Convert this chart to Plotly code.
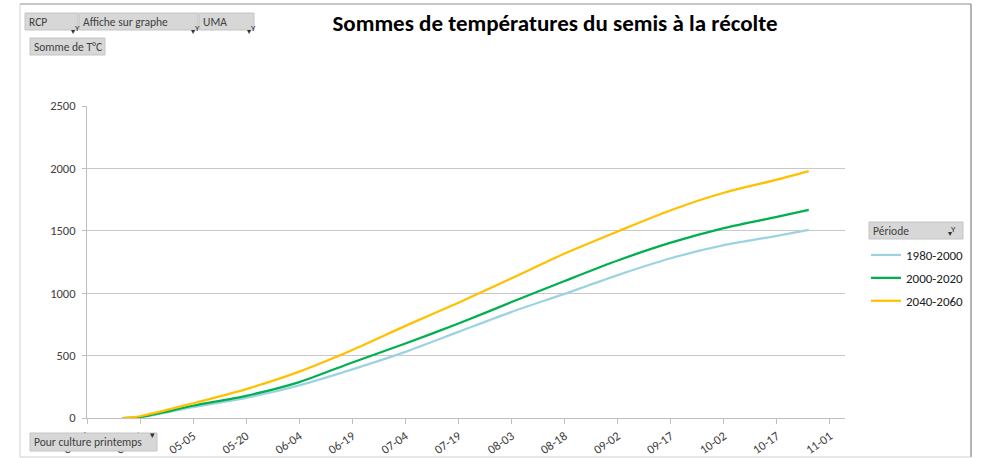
import plotly.graph_objects as go

# Cumulative degree-days from sowing to harvest, three climate periods
dates = ["04-15", "04-20", "05-05", "05-20", "06-04", "06-19", "07-04", "07-19",
         "08-03", "08-18", "09-02", "09-17", "10-02", "10-17", "10-26"]
p1980_2000 = [0, 6, 88, 162, 262, 390, 530, 690, 850, 995, 1145, 1280, 1385, 1460, 1508]
p2000_2020 = [0, 8, 98, 178, 288, 445, 597, 757, 929, 1098, 1262, 1405, 1522, 1612, 1667]
p2040_2060 = [0, 14, 118, 232, 372, 545, 738, 924, 1119, 1318, 1495, 1665, 1805, 1910, 1978]

series_names = ["1980-2000", "2000-2020", "2040-2060"]
series_colors = ["#9dd3e1", "#00b050", "#ffc000"]

YEAR = "2021-"
x_dates = [YEAR + d for d in dates]

W, H = 982, 458
L, R, T, B = 87, 137, 106, 40
PW, PH = W - L - R, H - T - B


def fx(px):
    return (px - L) / PW


def fy(py):
    return (H - B - py) / PH


FONT = "Carlito, Calibri, Liberation Sans Narrow, Liberation Sans, Arial"

fig = go.Figure()
for name, vals, col in zip(series_names, [p1980_2000, p2000_2020, p2040_2060], series_colors):
    fig.add_trace(go.Scatter(
        x=x_dates, y=vals, mode="lines", name=name, legendgroup=name,
        line=dict(color=col, width=2.25, shape="spline", smoothing=0.7),
    ))

shapes = []
annotations = []

# outer chart frame
frame = [((20, 4), (971, 4), "#8c8c8c"), ((971, 4), (971, 457), "#6b6b6b"),
         ((20, 4), (20, 457), "#d0d0d0"), ((20, 457), (971, 457), "#d0d0d0")]
for (x0, y0), (x1, y1), c in frame:
    shapes.append(dict(type="line", xref="paper", yref="paper",
                       x0=fx(x0), y0=fy(y0), x1=fx(x1), y1=fy(y1),
                       line=dict(color=c, width=1), layer="above"))


def button(x0, y0, x1, y1, label, icon=None):
    shapes.append(dict(type="rect", xref="paper", yref="paper",
                       x0=fx(x0), y0=fy(y0), x1=fx(x1), y1=fy(y1),
                       fillcolor="#d7d7d7", line=dict(color="#c4c4c4", width=1),
                       layer="above"))
    annotations.append(dict(text=label, xref="paper", yref="paper",
                            x=fx(x0 + 2), y=fy((y0 + y1) / 2), xanchor="left",
                            yanchor="middle", showarrow=False,
                            font=dict(family=FONT, size=11.5, color="#404040")))
    if icon == "filter":
        annotations.append(dict(text="▾", xref="paper", yref="paper",
                                x=fx(x1 - 9), y=fy((y0 + y1) / 2 + 2), showarrow=False,
                                font=dict(size=8, color="#303030")))
        annotations.append(dict(text="Y", xref="paper", yref="paper",
                                x=fx(x1 - 5), y=fy((y0 + y1) / 2 - 2), showarrow=False,
                                font=dict(family=FONT, size=9, color="#303030")))
    elif icon == "drop":
        annotations.append(dict(text="▾", xref="paper", yref="paper",
                                x=fx(x1 - 9), y=fy((y0 + y1) / 2), showarrow=False,
                                font=dict(size=9, color="#303030")))


button(25, 13, 78, 30, "RCP", "filter")
button(79, 13, 198, 30, "Affiche sur graphe", "filter")
button(199, 13, 254, 30, "UMA", "filter")
button(30, 38, 105, 55, "Somme de T°C")
button(30, 433, 157, 451, "Pour culture printemps", "drop")
button(869, 222, 963, 239, "Période", "filter")

fig.update_layout(
    width=W, height=H,
    margin=dict(l=L, r=R, t=T, b=B),
    paper_bgcolor="white", plot_bgcolor="white",
    font=dict(family=FONT, size=12, color="#404040"),
    title=dict(text="<b>Sommes de températures du semis à la récolte</b>",
               xref="container", yref="container", x=555 / W, y=1 - 23 / H,
               xanchor="center", yanchor="middle",
               font=dict(family=FONT, size=23, color="#000000")),
    xaxis=dict(type="date", range=[YEAR + "04-05", YEAR + "11-05 06:00"],
               tick0=YEAR + "04-05", dtick=15 * 86400000, tickformat="%m-%d",
               tickangle=-35, ticks="outside", ticklen=5, tickcolor="#bfbfbf",
               showgrid=False, showline=True, linecolor="#bfbfbf", zeroline=False,
               automargin=False, tickfont=dict(size=12.5, color="#404040")),
    yaxis=dict(range=[0, 2500], dtick=500, ticks="outside", ticklen=4,
               tickcolor="#bfbfbf", showgrid=True, gridcolor="#c8c8c8",
               showline=True, linecolor="#bfbfbf", zeroline=False,
               automargin=False, ticklabelstandoff=4,
               tickfont=dict(size=12.5, color="#404040")),
    showlegend=True,
    legend=dict(x=fx(866), y=fy(240), xanchor="left", yanchor="top",
                font=dict(family=FONT, size=13, color="#202020"),
                itemwidth=30, tracegroupgap=3, bgcolor="rgba(0,0,0,0)"),
    shapes=shapes, annotations=annotations,
)

fig.write_html("out.html")
